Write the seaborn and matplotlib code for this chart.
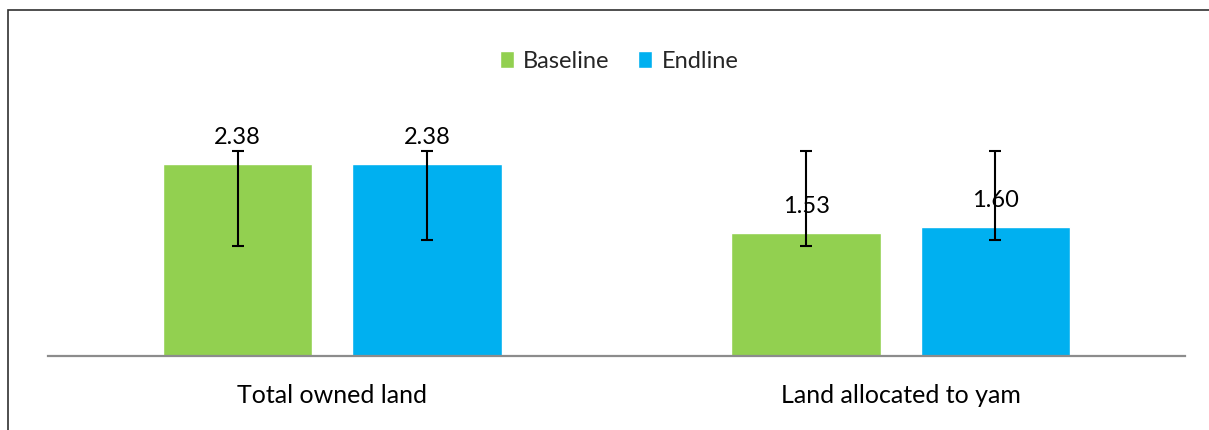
import matplotlib
matplotlib.use("Agg")
import matplotlib.pyplot as plt
import numpy as np
import pandas as pd
import seaborn as sns
from matplotlib.patches import Rectangle

categories = ["Total owned land", "Land allocated to yam"]
rounds = ["Baseline", "Endline"]
baseline = [2.38, 1.53]
endline = [2.38, 1.60]
# error bar ends (lower, upper)
baseline_low = [1.36, 1.36]
baseline_high = [2.55, 2.55]
endline_low = [1.44, 1.44]
endline_high = [2.55, 2.55]

colors = {"Baseline": "#92D050", "Endline": "#00B0F0"}

df = pd.DataFrame({
    "category": categories * 2,
    "round": ["Baseline"] * 2 + ["Endline"] * 2,
    "value": baseline + endline,
})

sns.set_style("white")
plt.rcParams["font.family"] = ["Lato", "DejaVu Sans"]

fig = plt.figure(figsize=(12.09, 4.30), dpi=100)
ax = fig.add_axes([48 / 1209, 74 / 430, 1137 / 1209, 282 / 430])

sns.barplot(data=df, x="category", y="value", hue="round", order=categories,
            hue_order=rounds, palette=colors, width=0.666, gap=0.21,
            errorbar=None, saturation=1, ax=ax)

lows = {"Baseline": baseline_low, "Endline": endline_low}
highs = {"Baseline": baseline_high, "Endline": endline_high}
for cont, r in zip(ax.containers, rounds):
    for bar, lo, hi in zip(cont, lows[r], highs[r]):
        xc = bar.get_x() + bar.get_width() / 2
        h = bar.get_height()
        ax.errorbar(xc, h, yerr=[[h - lo], [hi - h]], fmt="none",
                    ecolor="black", elinewidth=1.5, capsize=4.5,
                    capthick=1.5, zorder=5)
        ax.annotate(f"{h:.2f}", (xc, h), xytext=(0, 19), textcoords="offset points",
                    ha="center", va="center", fontsize=17, color="black", zorder=3)

ax.set_xlim(-0.5, 1.5)
ax.set_ylim(0, 3.5)
ax.set_xlabel("")
ax.set_ylabel("")
ax.set_yticks([])
for s in ["top", "left", "right"]:
    ax.spines[s].set_visible(False)
ax.spines["bottom"].set_color("#8c8c8c")
ax.spines["bottom"].set_linewidth(1.6)
ax.tick_params(axis="x", length=0, pad=20, labelsize=18, colors="black")

handles, labels = ax.get_legend_handles_labels()
ax.legend(handles, labels, loc="center", bbox_to_anchor=(619 / 1209, 1 - 61 / 430),
          bbox_transform=fig.transFigure, ncol=2, frameon=False, fontsize=17,
          handlelength=0.6, handleheight=0.7, handletextpad=0.4, columnspacing=1.2)

# outer chart frame (cut off at right and bottom)
fig.patches.append(Rectangle((8 / 1209, -0.1), 1.2, 1 - 10 / 430 + 0.1,
                             transform=fig.transFigure, fill=False,
                             edgecolor="#303030", linewidth=1.2))

fig.savefig("out.png", dpi=100)
